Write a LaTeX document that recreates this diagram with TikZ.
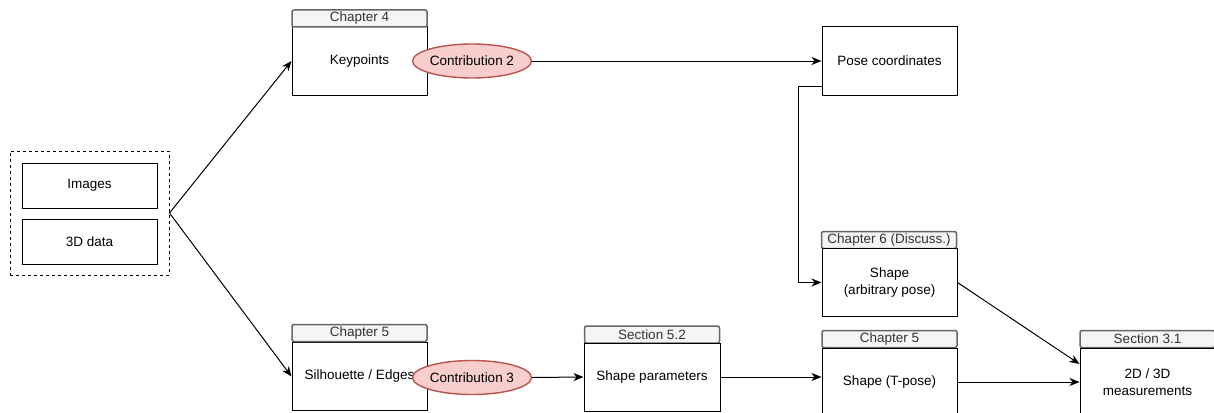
\documentclass[tikz,border=0pt]{standalone}
\usepackage{fontspec}
\setmainfont{Liberation Sans}
\usetikzlibrary{shapes.geometric,arrows.meta}
\definecolor{hdrfill}{HTML}{F5F5F5}
\definecolor{hdrline}{HTML}{666666}
\definecolor{hdrtext}{HTML}{333333}
\definecolor{cfill}{HTML}{F8CECC}
\definecolor{cline}{HTML}{B85450}
\tikzset{
  txt/.style={font=\fontsize{13.5}{16.5}\selectfont},
  box/.style={txt, draw=black, line width=1pt, fill=white, minimum width=135pt, minimum height=68pt, inner sep=0pt, align=center},
  smallbox/.style={txt, draw=black, line width=1pt, fill=white, minimum width=135pt, minimum height=45pt, inner sep=0pt},
  hdr/.style={txt, draw=hdrline, line width=1.5pt, fill=hdrfill, rounded corners=2pt, minimum width=135pt, minimum height=17pt, inner sep=0pt, text=hdrtext},
  contrib/.style={txt, ellipse, draw=cline, line width=1.4pt, fill=cfill, minimum width=114pt, minimum height=34pt, inner sep=0pt},
  group/.style={draw=black, line width=1pt, dashed, minimum width=159pt, minimum height=124pt, inner sep=0pt},
  arr/.style={draw=black, line width=1pt, -{Stealth[length=10pt,width=8pt,inset=3pt]}},
}
\begin{document}
\begin{tikzpicture}[x=1pt,y=-1pt]
\useasboundingbox (0,0) rectangle (1214,412);
% input group
\node[group] (grp) at (89.5,213) {};
\node[smallbox] (img) at (89.5,185.5) {Images};
\node[smallbox] (d3) at (89.5,241.5) {3D data};
% keypoints
\node[box] (kp) at (359.5,61) {Keypoints};
\node[hdr] (kph) at (359.5,18.5) {Chapter 4};
\node[contrib] (c2) at (472,61) {Contribution 2};
% pose coordinates
\node[box] (pose) at (889.5,61) {Pose coordinates};
% shape arbitrary
\node[hdr] (c6h) at (889,240) {Chapter 6 (Discuss.)};
\node[box] (sarb) at (889.5,282.5) {Shape\\(arbitrary pose)};
% silhouette
\node[box] (sil) at (359.5,376.5) {Silhouette / Edges};
\node[hdr] (silh) at (359.5,333) {Chapter 5};
\node[contrib] (c3) at (472,377.5) {Contribution 3};
% shape parameters
\node[hdr] (s52h) at (652,334.5) {Section 5.2};
\node[box, minimum width=136pt] (spar) at (652,377) {Shape parameters};
% T-pose
\node[hdr] (c5h) at (889.5,339) {Chapter 5};
\node[box] (tpose) at (889.5,382) {Shape (T-pose)};
% measurements
\node[hdr] (s31h) at (1147.5,339) {Section 3.1};
\node[box] (meas) at (1147.5,382) {2D / 3D\\measurements};
% connectors
\draw[arr] (grp.east) -- (kp.west);
\draw[arr] (grp.east) -- (sil.west);
\draw[arr] (c2.east) -- (pose.west);
\draw[arr] ([yshift=9pt]pose.south west) -- ++(-23,0) |- (sarb.west);
\draw[arr] (c3.east) -- (spar.west);
\draw[arr] (spar.east) -- (spar.east -| tpose.west);
\draw[arr] (sarb.east) -- ([yshift=18pt]meas.west);
\draw[arr] (tpose.east) -- (meas.west);
\end{tikzpicture}
\end{document}
